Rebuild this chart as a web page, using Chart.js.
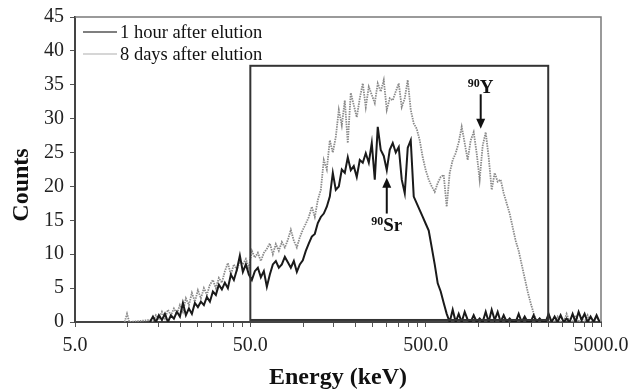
<!DOCTYPE html>
<html>
<head>
<meta charset="utf-8">
<script src="https://cdn.jsdelivr.net/npm/chart.js@4"></script>
<style>
  body { margin: 0; background: #fff; }
</style>
</head>
<body>
<canvas id="chartPho" width="633" height="391"></canvas>
<script>
// Năng lượng (keV) của từng kênh đọc trên trục log
const energies = [9.6, 9.9, 10.2,
  13.38, 13.92, 14.47, 15.05, 15.66, 16.29, 16.94, 17.62, 18.33, 19.06,
  19.83, 20.63, 21.45, 22.32, 23.21, 24.14, 25.11, 26.12, 27.17, 28.26,
  29.40, 30.58, 31.80, 33.08, 34.41, 35.79, 37.23, 38.72, 40.28, 41.89,
  43.58, 45.33, 47.15, 49.04, 51.01, 53.06, 55.19, 57.41, 59.71, 62.11,
  64.60, 67.20, 69.89, 72.70, 75.62, 78.66, 81.81, 85.10, 88.52, 92.07,
  95.77, 99.61, 103.6, 107.8, 112.1, 116.6, 121.3, 126.2, 131.2, 136.5,
  142.0, 147.7, 153.6, 159.8, 166.2, 172.9, 179.8, 187.0, 194.5, 202.3,
  210.5, 218.9, 227.7, 236.9, 246.4, 256.3, 266.5, 277.2, 288.4, 300.0,
  312.0, 324.5, 337.6, 351.1, 365.2, 379.9, 395.1, 411.0, 427.5, 444.7,
  462.5, 481.1, 500.4, 520.5, 541.4, 563.1, 585.7, 609.2, 633.7, 659.1,
  685.6, 713.1, 741.7, 771.5, 802.5, 834.7, 868.2, 903.1, 939.4, 977.1,
  1016, 1057, 1100, 1144, 1190, 1238, 1287, 1339, 1393, 1449,
  1507, 1567, 1630, 1696, 1764, 1835, 1908, 1985, 2064, 2147,
  2234, 2323, 2416, 2513, 2614, 2719, 2828, 2942, 3060, 3183,
  3311, 3444, 3582, 3726, 3875, 4031, 4193, 4361, 4536, 4718,
  4908];

// 1 giờ sau rửa giải
const counts1h = [null, null, null,
  0, 0.8, 0, 1, 0.3, 1.2, 0, 1, 0.5, 1.5,
  0.8, 2.8, 1, 2, 1.2, 2.8, 2.2, 3, 2.5, 3.7,
  3, 4.5, 4, 5.5, 4.8, 5.8, 5, 7, 6.2, 7.7,
  9.8, 7.4, 8.5, 7, 6.2, 7.5, 8, 6.6, 7.5, 5.2,
  7, 8.5, 9, 8, 8.5, 9.6, 8.8, 8, 9, 7.4,
  8.5, 9.1, 10.5, 11.6, 12.6, 13, 14.6, 15.5, 16, 17,
  18.5, 22, 19.5, 20, 22.5, 22, 24.3, 22.4, 23, 21.4,
  23.9, 23.5, 24.9, 23.5, 26.4, 21, 28.8, 25.4, 24.5, 22.4,
  25.4, 26.4, 25, 25.8, 21, 19, 25.7, 26.8, 18.5, 17.5,
  16.5, 15.5, 14.5, 13.5, 11, 8.5, 5.7, 4.5, 2.8, 1.2,
  0, 1.8, 0, 1.2, 0, 1.5, 0.3, 0, 1, 0,
  0.5, 0, 1.5, 0, 1.8, 0.3, 1.5, 0, 1, 0,
  0.5, 0, 0, 1.2, 0, 0.8, 0, 0, 1, 0,
  0.5, 0, 0, 1.2, 0, 0.8, 0, 1, 0, 0.5,
  0, 1.2, 0, 1.5, 0.3, 1.2, 0, 0.8, 0, 1,
  0];

// 8 ngày sau rửa giải
const counts8d = [0, 1.2, 0,
  0.3, 0, 1, 0.5, 1.5, 0.5, 1.8, 1, 2, 1.2,
  2.5, 1.5, 3.5, 2.5, 4.3, 3, 4.7, 3.5, 5, 4,
  5.5, 6.2, 5, 6.5, 5.8, 7.5, 8.7, 7, 8.5, 7.7,
  9, 8.5, 9.3, 8, 10.5, 9.5, 10.2, 9, 10.2, 10.8,
  11.6, 10, 11.5, 10.5, 11.8, 11, 12.1, 13.6, 12, 11,
  12.5, 13.6, 14.5, 15.5, 17, 15.5, 18, 19.5, 23.9, 22.5,
  26.8, 25, 27.3, 31.3, 29, 32.7, 26.4, 33.8, 32, 30.2,
  33, 35.2, 31.7, 34.7, 33.5, 32.3, 35.2, 34, 35.7, 31.3,
  33, 32.7, 34, 35.2, 31.7, 33, 35.7, 31.3, 29.3, 28.5,
  26.8, 24.3, 22.4, 21, 20, 19.2, 20.5, 21.4, 21.7, 17,
  22, 23.9, 24.9, 26.5, 28.8, 26.4, 23.9, 26.8, 28, 24.9,
  21, 26, 28, 24.3, 19.5, 22, 20.7, 21, 19, 17.5,
  16, 14, 12, 10.5, 8.5, 6.5, 4.5, 2.8, 1.3, 0,
  0.5, 0, 0, 1, 0, 0, 0.8, 0, 0, 1.2,
  0, 0, 1, 0, 0.5, 0, 1, 0, 0, 0.8,
  0];

const seriesNames = ['1 hour after elution', '8 days after elution'];
const xMajorTicks = [5, 50, 500, 5000];
const xTickLabels = ['5.0', '50.0', '500.0', '5000.0'];
const xMinorSteps = [2, 3, 4, 5, 6, 7, 8, 9];

// khung chữ nhật bên trong và hai mũi tên chú thích
const boxEnergy = [50, 2500];
const boxCounts = [0.3, 37.8];
const srArrow = { energy: 300, from: 16, to: 21.3, labelAt: 14.2, mass: '90', sym: 'Sr' };
const yArrow = { energy: 1030, from: 33.6, to: 28.5, labelAt: 34.5, mass: '90', sym: 'Y' };

const FONT = '"Liberation Serif", "Times New Roman", serif';

const xTickValues = [];
xMajorTicks.forEach((m, i) => {
  xTickValues.push(m);
  if (i < xMajorTicks.length - 1) xMinorSteps.forEach(k => xTickValues.push(m * k));
});

function toPoints(vals) {
  return energies.map((e, i) => ({ x: e, y: vals[i] }));
}

function drawArrow(ctx, px, y1, y2) {
  const dir = y2 > y1 ? 1 : -1;
  ctx.beginPath();
  ctx.moveTo(px, y1);
  ctx.lineTo(px, y2 - dir * 8);
  ctx.stroke();
  ctx.beginPath();
  ctx.moveTo(px, y2);
  ctx.lineTo(px - 4.5, y2 - dir * 10);
  ctx.lineTo(px + 4.5, y2 - dir * 10);
  ctx.closePath();
  ctx.fill();
}

function drawIsotope(ctx, cx, cy, mass, sym) {
  ctx.textBaseline = 'middle';
  ctx.textAlign = 'left';
  ctx.font = 'bold 12px ' + FONT;
  const w1 = ctx.measureText(mass).width;
  ctx.font = 'bold 19px ' + FONT;
  const w2 = ctx.measureText(sym).width;
  const x0 = cx - (w1 + w2) / 2;
  ctx.fillText(sym, x0 + w1, cy);
  ctx.font = 'bold 12px ' + FONT;
  ctx.fillText(mass, x0, cy - 4);
}

const ghiChu = {
  id: 'ghiChu',
  afterDraw(chart) {
    const { ctx, chartArea: a, scales: { x, y } } = chart;
    ctx.save();
    // khung trên và phải
    ctx.strokeStyle = '#7a7a7a';
    ctx.lineWidth = 1.5;
    ctx.beginPath();
    ctx.moveTo(a.left, a.top);
    ctx.lineTo(a.right, a.top);
    ctx.lineTo(a.right, a.bottom);
    ctx.stroke();

    // khung trong
    const bx1 = x.getPixelForValue(boxEnergy[0]);
    const bx2 = x.getPixelForValue(boxEnergy[1]);
    const by1 = y.getPixelForValue(boxCounts[0]);
    const by2 = y.getPixelForValue(boxCounts[1]);
    ctx.strokeStyle = '#333';
    ctx.lineWidth = 2;
    ctx.strokeRect(bx1, by2, bx2 - bx1, by1 - by2);

    // mũi tên
    ctx.strokeStyle = '#111';
    ctx.fillStyle = '#111';
    ctx.lineWidth = 2;
    [srArrow, yArrow].forEach(ar => {
      const px = x.getPixelForValue(ar.energy);
      drawArrow(ctx, px, y.getPixelForValue(ar.from), y.getPixelForValue(ar.to));
      drawIsotope(ctx, px, y.getPixelForValue(ar.labelAt), ar.mass, ar.sym);
    });

    // chú giải
    const legendColors = ['#555', '#c8c8c8'];
    const legendY = [32, 54];
    ctx.lineWidth = 1.5;
    seriesNames.forEach((name, i) => {
      ctx.strokeStyle = legendColors[i];
      ctx.beginPath();
      ctx.moveTo(83, legendY[i]);
      ctx.lineTo(117, legendY[i]);
      ctx.stroke();
      ctx.fillStyle = '#111';
      ctx.font = '18.5px ' + FONT;
      ctx.textAlign = 'left';
      ctx.textBaseline = 'middle';
      ctx.fillText(name, 120, legendY[i] + 1);
    });

    // tiêu đề trục y
    ctx.translate(22, 185);
    ctx.rotate(-Math.PI / 2);
    ctx.font = 'bold 24px ' + FONT;
    ctx.textAlign = 'center';
    ctx.textBaseline = 'middle';
    ctx.fillStyle = '#111';
    ctx.fillText('Counts', 0, 0);
    ctx.restore();
  }
};

document.addEventListener('DOMContentLoaded', function () {
  const ctx = document.getElementById('chartPho').getContext('2d');
  new Chart(ctx, {
    type: 'line',
    data: {
      datasets: [{
        label: seriesNames[0],
        data: toPoints(counts1h),
        borderColor: '#1a1a1a',
        borderWidth: 2,
        pointRadius: 0,
        tension: 0,
        spanGaps: false
      }, {
        label: seriesNames[1],
        data: toPoints(counts8d),
        borderColor: '#8a8a8a',
        borderWidth: 1.8,
        borderDash: [1.5, 1],
        pointRadius: 0,
        tension: 0
      }]
    },
    options: {
      responsive: false,
      animation: false,
      devicePixelRatio: 1,
      layout: { padding: { left: 0, top: 17, right: 32, bottom: 0 } },
      plugins: { legend: { display: false }, tooltip: { enabled: false } },
      scales: {
        x: {
          type: 'logarithmic',
          min: 5,
          max: 5000,
          z: 1,
          afterBuildTicks: s => { s.ticks = xTickValues.map(v => ({ value: v })); },
          afterFit: s => { s.height = 69; s.paddingLeft = 0; s.paddingRight = 0; },
          ticks: {
            autoSkip: false,
            maxRotation: 0,
            padding: 7,
            color: '#222',
            font: { family: FONT, size: 20 },
            callback: v => {
              const i = xMajorTicks.indexOf(v);
              return i >= 0 ? xTickLabels[i] : '';
            }
          },
          grid: { drawOnChartArea: false, drawTicks: true, tickLength: 5, color: '#555' },
          border: { display: true, color: '#444', width: 2 },
          title: {
            display: true,
            text: 'Energy (keV)',
            color: '#111',
            font: { family: FONT, size: 24, weight: 'bold' },
            padding: { top: 0, bottom: -1 }
          }
        },
        y: {
          min: 0,
          max: 45,
          afterFit: s => { s.width = 75; s.paddingTop = 0; s.paddingBottom = 0; },
          ticks: {
            stepSize: 5,
            padding: 6,
            color: '#222',
            font: { family: FONT, size: 20 }
          },
          grid: { drawOnChartArea: false, drawTicks: true, tickLength: 5, color: '#555' },
          border: { display: true, color: '#444', width: 2 }
        }
      }
    },
    plugins: [ghiChu]
  });
});
</script>
</body>
</html>
